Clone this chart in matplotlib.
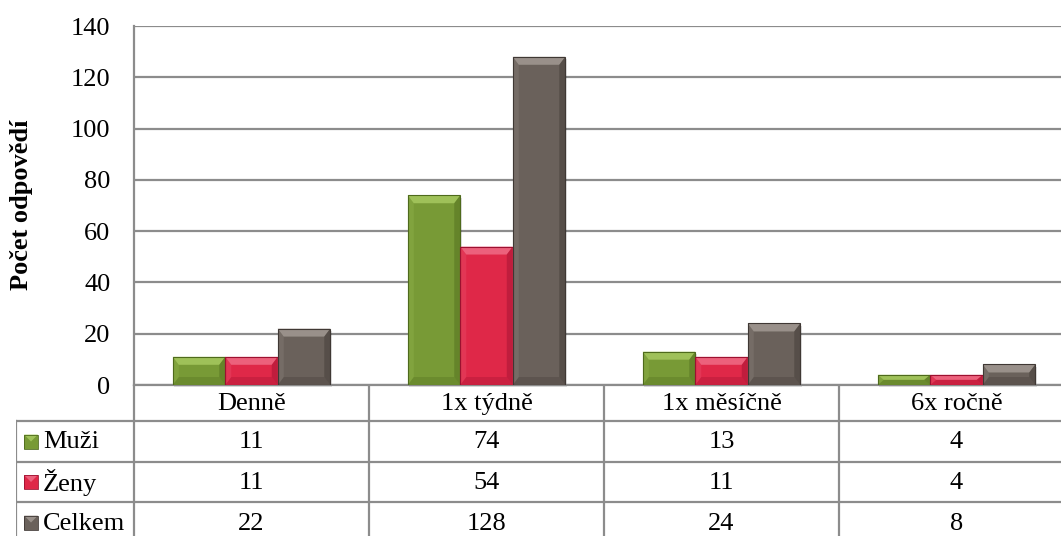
import matplotlib.pyplot as plt
from matplotlib.patches import Polygon, Rectangle

# Survey answers: how often respondents do it
categories = ["Denně", "1x týdně", "1x měsíčně", "6x ročně"]
series_names = ["Muži", "Ženy", "Celkem"]
muzi = [11, 74, 13, 4]
zeny = [11, 54, 11, 4]
celkem = [22, 128, 24, 8]
series_values = [muzi, zeny, celkem]

y_label = "Počet odpovědí"
y_ticks = [0, 20, 40, 60, 80, 100, 120, 140]

# face, light bevel, dark bevel
COLORS = [
    ("#789a36", "#a9cc62", "#4e6a1c"),
    ("#df2848", "#f0708a", "#9c1030"),
    ("#6a615b", "#a59d96", "#3f3834"),
]
GRID = "#8c8c8c"
FONT = ["Liberation Serif", "DejaVu Serif"]
FS = 19

W, H = 1061, 536
PLOT_L, PLOT_R, PLOT_T, PLOT_B = 134, 1074, 26, 385
TAB_L, TAB_B = 16, 543
ROW_LINES = [385, 421, 462, 502, 543]
CAT_PX = (PLOT_R - PLOT_L) / len(categories)

plt.rcParams["font.family"] = FONT


def bevel(axis, x0, y0, w, h, face, light, dark, bx, by):
    bx = min(bx, w / 2)
    by = min(by, h / 2)
    x1, y1 = x0 + w, y0 + h
    polys = [
        ([(x0, y1), (x1, y1), (x1 - bx, y1 - by), (x0 + bx, y1 - by)], light, 0.8),
        ([(x0, y0), (x1, y0), (x1 - bx, y0 + by), (x0 + bx, y0 + by)], dark, 0.3),
        ([(x0, y0), (x0, y1), (x0 + bx, y1 - by), (x0 + bx, y0 + by)], light, 0.2),
        ([(x1, y0), (x1, y1), (x1 - bx, y1 - by), (x1 - bx, y0 + by)], dark, 0.45),
    ]
    for pts, c, a in polys:
        axis.add_patch(Polygon(pts, closed=True, facecolor=c, edgecolor="none",
                               alpha=a, zorder=4))
    axis.add_patch(Rectangle((x0, y0), w, h, facecolor="none", edgecolor=dark,
                             lw=0.8, zorder=5))


fig = plt.figure(figsize=(W / 100, H / 100), dpi=100)
fig.patch.set_facecolor("white")

ax = fig.add_axes([PLOT_L / W, 1 - PLOT_B / H, (PLOT_R - PLOT_L) / W,
                   (PLOT_B - PLOT_T) / H])
ax.set_xlim(-0.5, len(categories) - 0.5)
ax.set_ylim(0, 140)
ax.set_yticks(y_ticks)
ax.set_xticks([])
ax.tick_params(axis="y", length=0, pad=17, labelsize=FS)
ax.yaxis.grid(True, color=GRID, lw=1.6, zorder=0)
ax.set_axisbelow(True)
for side in ["top", "right"]:
    ax.spines[side].set_visible(False)
for side in ["left", "bottom"]:
    ax.spines[side].set_color(GRID)
    ax.spines[side].set_linewidth(1.6)

bar_w = 52.5 / CAT_PX
bx = 6 / CAT_PX
by = 8 * 140 / (PLOT_B - PLOT_T)
for k, (vals, (face, light, dark)) in enumerate(zip(series_values, COLORS)):
    xs = [i + (k - 1) * bar_w for i in range(len(categories))]
    bars = ax.bar(xs, vals, width=bar_w, color=face, zorder=3)
    for p in bars:
        # soft drop shadow
        ax.add_patch(Rectangle((p.get_x() + 0.006, p.get_y() - 0.9), p.get_width(),
                               p.get_height(), facecolor="#000000", alpha=0.12,
                               edgecolor="none", zorder=2, clip_on=False))
        bevel(ax, p.get_x(), p.get_y(), p.get_width(), p.get_height(),
              face, light, dark, bx, by)

fig.text(22 / W, 1 - 205 / H, y_label, rotation=90, ha="center", va="center",
         fontsize=FS, fontweight="bold")

# data table under the plot
tab = fig.add_axes([TAB_L / W, 1 - TAB_B / H, (PLOT_R - TAB_L) / W,
                    (TAB_B - PLOT_B) / H])
x_min = -0.5 - (PLOT_L - TAB_L) / CAT_PX
tab.set_xlim(x_min, len(categories) - 0.5)
tab.set_ylim(TAB_B, PLOT_B)
tab.axis("off")

lw = 1.6
for k in range(len(categories) + 1):
    tab.plot([k - 0.5, k - 0.5], [PLOT_B, TAB_B], color=GRID, lw=lw)
tab.plot([x_min, x_min], [ROW_LINES[1], TAB_B], color=GRID, lw=lw)
for yl in ROW_LINES[1:]:
    tab.plot([x_min, len(categories) - 0.5], [yl, yl], color=GRID, lw=lw)

for i, cat in enumerate(categories):
    tab.text(i, (ROW_LINES[0] + ROW_LINES[1]) / 2 + 1, cat, ha="center",
             va="center", fontsize=FS)

sq = 14 / CAT_PX
for r, (name, vals, (face, light, dark)) in enumerate(zip(series_names,
                                                          series_values, COLORS)):
    ymid = (ROW_LINES[r + 1] + ROW_LINES[r + 2]) / 2
    sx = x_min + 8 / CAT_PX
    tab.add_patch(Rectangle((sx, ymid - 7), sq, 14, facecolor=face,
                            edgecolor="none", zorder=3))
    tab.add_patch(Polygon([(sx, ymid - 7), (sx + sq, ymid - 7),
                           (sx + sq / 2, ymid)], closed=True, facecolor=light,
                          edgecolor="none", alpha=0.8, zorder=4))
    tab.add_patch(Rectangle((sx, ymid - 7), sq, 14, facecolor="none",
                            edgecolor=dark, lw=0.6, zorder=5))
    tab.text(x_min + 27 / CAT_PX, ymid + 1, name, ha="left", va="center",
             fontsize=FS)
    for i, v in enumerate(vals):
        tab.text(i, ymid + 1, str(v), ha="center", va="center", fontsize=FS)

fig.savefig("out.png", dpi=100)
